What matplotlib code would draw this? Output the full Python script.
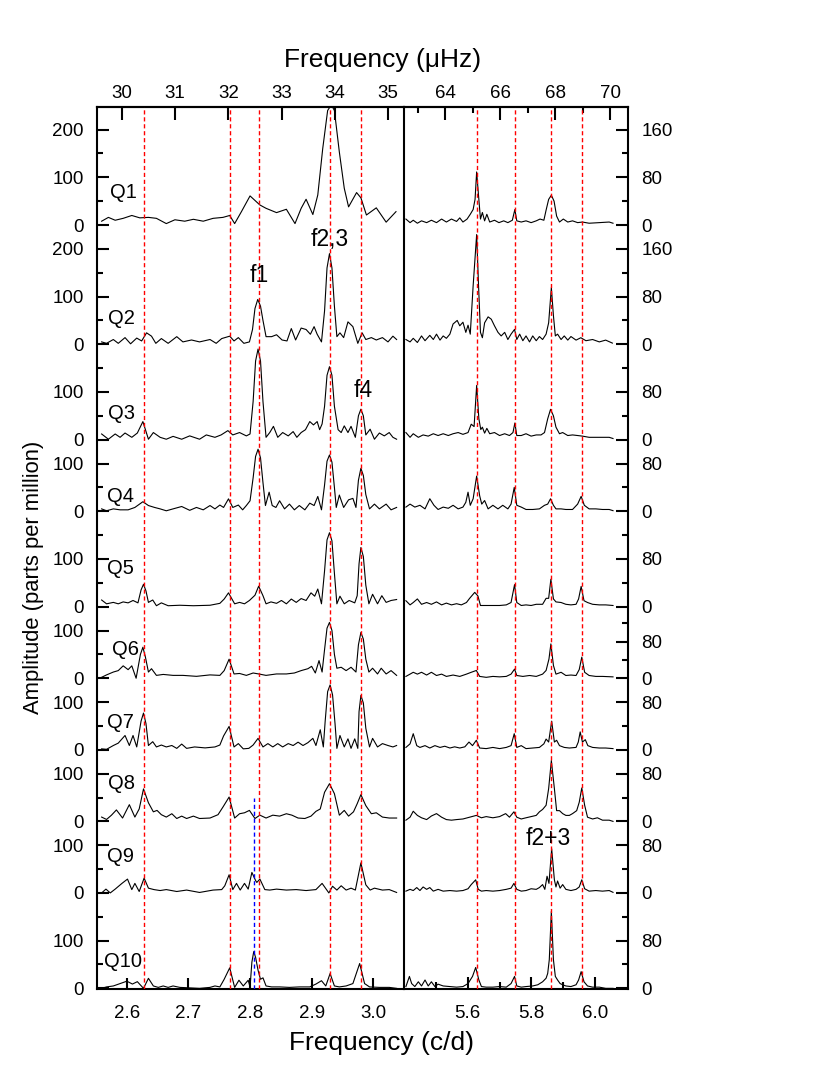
import numpy as np
import matplotlib
matplotlib.use("Agg")
import matplotlib.pyplot as plt

plt.rcParams["font.family"] = ["Liberation Sans", "DejaVu Sans"]

# ---------------- data ----------------
QUARTERS = ["Q1", "Q2", "Q3", "Q4", "Q5", "Q6", "Q7", "Q8", "Q9", "Q10"]
# stacking offset of each quarter's zero line (left ppm units)
OFFSETS = [1600, 1350, 1150, 1000, 800, 650, 500, 350, 200, 0]
# right column: left-units per labelled right-unit (Q6 drawn on another scale)
RIGHT_SCALE = [1.25, 1.25, 1.25, 1.25, 1.25, 0.96, 1.25, 1.25, 1.25, 1.25]

LEFT_LABELS = [[0, 100, 200], [0, 100, 200]] + [[0, 100]] * 8
LEFT_MINOR = [[50, 150], [50, 150], [50, 150], [50], [50, 150], [50], [50], [50], [50], [50, 150]]
RIGHT_LABELS = [[0, 80, 160], [0, 80, 160]] + [[0, 80]] * 8
RIGHT_MINOR = [[40, 120], [40, 120], [40, 120], [40], [40, 120], [40, 120], [40], [40], [40], [40, 120]]

# frequencies marked with dashed lines (c/d)
LEFT_LINES = [2.628, 2.767, 2.815, 2.930, 2.980]
RIGHT_LINES = [5.628, 5.748, 5.8625, 5.958]
BLUE_LINE = 2.806

# --- left column (2.55-3.05 c/d), amplitude in ppm ---
q1_lf = [2.559, 2.570, 2.581, 2.594, 2.608, 2.621, 2.635, 2.648, 2.664, 2.678, 2.694, 2.708, 2.724, 2.740,
         2.756, 2.767, 2.775, 2.786, 2.800, 2.816, 2.826, 2.843, 2.859, 2.873, 2.883, 2.891, 2.902, 2.910,
         2.918, 2.926, 2.932, 2.937, 2.945, 2.953, 2.960, 2.973, 2.980, 2.989, 3.005, 3.021, 3.037]
q1_la = [8, 16, 10, 14, 20, 15, 16, 14, 3, 11, 8, 12, 8, 14, 16, 20, 3, 28, 61, 42, 35, 26, 33, 3, 35, 54,
         22, 63, 160, 240, 252, 240, 153, 77, 38, 68, 57, 21, 36, 6, 28]

q2_lf = [2.559, 2.567, 2.578, 2.586, 2.597, 2.606, 2.616, 2.624, 2.632, 2.640, 2.647, 2.656, 2.667, 2.681,
         2.691, 2.705, 2.718, 2.735, 2.745, 2.754, 2.767, 2.774, 2.781, 2.790, 2.799, 2.804, 2.808, 2.8125,
         2.817, 2.821, 2.826, 2.835, 2.843, 2.852, 2.860, 2.867, 2.874, 2.883, 2.891, 2.898, 2.904, 2.909,
         2.916, 2.921, 2.925, 2.929, 2.933, 2.937, 2.941, 2.946, 2.952, 2.959, 2.967, 2.975, 2.982, 2.988,
         2.997, 3.005, 3.015, 3.024, 3.032, 3.038]
q2_la = [5, 2, 10, 2, 14, 1, 13, 7, 24, 17, 2, 12, 2, 16, 5, 9, 5, 10, 2, 12, 17, 7, 14, 2, 5, 31, 75, 94,
         80, 50, 16, 16, 20, 9, 7, 33, 9, 34, 31, 21, 37, 21, 5, 70, 160, 190, 160, 80, 16, 24, 14, 47, 37,
         2, 24, 10, 14, 9, 14, 5, 17, 10]

q3_lf = [2.559, 2.570, 2.581, 2.589, 2.597, 2.608, 2.617, 2.626, 2.635, 2.643, 2.654, 2.664, 2.675, 2.689,
         2.702, 2.718, 2.729, 2.743, 2.753, 2.764, 2.772, 2.783, 2.794, 2.800, 2.805, 2.809, 2.813, 2.817,
         2.821, 2.826, 2.832, 2.838, 2.845, 2.853, 2.862, 2.870, 2.876, 2.883, 2.890, 2.897, 2.903, 2.909,
         2.913, 2.917, 2.921, 2.925, 2.929, 2.933, 2.937, 2.943, 2.948, 2.953, 2.959, 2.964, 2.971, 2.976,
         2.980, 2.984, 2.988, 2.995, 3.002, 3.010, 3.018, 3.026, 3.032, 3.038]
q3_la = [12, 1, 12, 5, 14, 5, 14, 38, 1, 15, 5, 1, 7, 1, 8, 1, 10, 5, 10, 19, 10, 15, 8, 12, 80, 165, 190,
         165, 80, 5, 15, 28, 5, 15, 8, 17, 5, 15, 21, 38, 31, 38, 21, 33, 70, 135, 153, 135, 70, 21, 15, 29,
         15, 28, 5, 50, 64, 50, 10, 22, 1, 14, 8, 15, 5, 1]

q4_lf = [2.559, 2.567, 2.578, 2.589, 2.602, 2.613, 2.626, 2.635, 2.645, 2.654, 2.664, 2.675, 2.689, 2.702,
         2.713, 2.724, 2.735, 2.743, 2.751, 2.757, 2.765, 2.772, 2.781, 2.788, 2.794, 2.800, 2.805, 2.809,
         2.813, 2.817, 2.821, 2.825, 2.831, 2.836, 2.842, 2.848, 2.856, 2.864, 2.872, 2.880, 2.889, 2.897,
         2.904, 2.910, 2.916, 2.921, 2.925, 2.929, 2.933, 2.937, 2.940, 2.945, 2.952, 2.960, 2.967, 2.972,
         2.976, 2.980, 2.984, 2.988, 2.994, 3.002, 3.010, 3.021, 3.029, 3.038]
q4_la = [5, 1, 5, 3, 3, 8, 20, 12, 8, 5, 1, 5, 10, 2, 8, 3, 12, 5, 13, 8, 26, 8, 13, 3, 12, 22, 70, 115,
         130, 112, 60, 12, 40, 12, 8, 22, 5, 15, 3, 12, 3, 17, 12, 31, 3, 55, 105, 118, 103, 50, 8, 34, 8,
         24, 27, 8, 65, 90, 75, 35, 5, 15, 5, 15, 3, 8]

q5_lf = [2.559, 2.567, 2.578, 2.586, 2.594, 2.602, 2.610, 2.618, 2.623, 2.627, 2.631, 2.635, 2.642, 2.648,
         2.656, 2.667, 2.686, 2.708, 2.735, 2.751, 2.758, 2.765, 2.775, 2.783, 2.791, 2.799, 2.808, 2.814,
         2.821, 2.826, 2.834, 2.843, 2.851, 2.859, 2.867, 2.875, 2.883, 2.891, 2.899, 2.905, 2.910, 2.916,
         2.921, 2.925, 2.929, 2.933, 2.937, 2.941, 2.946, 2.953, 2.961, 2.970, 2.974, 2.977, 2.980, 2.984,
         2.988, 2.993, 2.999, 3.007, 3.014, 3.021, 3.029, 3.038]
q5_la = [14, 6, 9, 6, 10, 8, 13, 8, 35, 47, 33, 9, 14, 2, 8, 2, 3, 2, 3, 7, 16, 29, 6, 9, 6, 13, 24, 43,
         23, 6, 10, 7, 13, 6, 16, 9, 17, 13, 29, 22, 37, 6, 75, 140, 155, 138, 70, 6, 22, 6, 13, 8, 23, 90,
         124, 105, 45, 6, 26, 6, 23, 9, 13, 15]

q6_lf = [2.559, 2.567, 2.578, 2.586, 2.594, 2.602, 2.608, 2.615, 2.622, 2.626, 2.630, 2.635, 2.640, 2.648,
         2.659, 2.675, 2.691, 2.713, 2.735, 2.751, 2.758, 2.766, 2.774, 2.783, 2.794, 2.805, 2.814, 2.826,
         2.843, 2.859, 2.872, 2.883, 2.894, 2.900, 2.906, 2.912, 2.917, 2.921, 2.925, 2.929, 2.933, 2.937,
         2.941, 2.948, 2.956, 2.964, 2.972, 2.976, 2.980, 2.984, 2.988, 2.993, 2.999, 3.007, 3.013, 3.021,
         3.029, 3.038]
q6_la = [2, 7, 13, 16, 26, 18, 26, 0, 50, 65, 45, 13, 20, 6, 8, 6, 6, 4, 7, 6, 16, 40, 9, 10, 6, 11, 9, 6,
         9, 9, 11, 16, 20, 25, 11, 37, 13, 60, 105, 117, 100, 50, 21, 23, 16, 23, 13, 70, 96, 82, 40, 13,
         21, 9, 21, 9, 16, 6]

q7_lf = [2.559, 2.567, 2.578, 2.586, 2.597, 2.604, 2.610, 2.616, 2.623, 2.627, 2.631, 2.635, 2.642, 2.648,
         2.656, 2.664, 2.673, 2.681, 2.689, 2.697, 2.710, 2.727, 2.743, 2.751, 2.757, 2.766, 2.774, 2.781,
         2.789, 2.798, 2.805, 2.813, 2.821, 2.829, 2.837, 2.845, 2.853, 2.862, 2.870, 2.878, 2.886, 2.894,
         2.902, 2.907, 2.914, 2.919, 2.922, 2.926, 2.930, 2.934, 2.938, 2.941, 2.946, 2.953, 2.959, 2.964,
         2.970, 2.975, 2.977, 2.980, 2.984, 2.988, 2.994, 2.999, 3.007, 3.015, 3.024, 3.032, 3.038]
q7_la = [2, 1, 9, 14, 30, 9, 30, 6, 60, 77, 55, 9, 17, 6, 10, 6, 9, 3, 12, 3, 6, 4, 6, 10, 29, 49, 6, 13,
         2, 3, 10, 24, 6, 13, 6, 13, 6, 13, 9, 16, 9, 15, 24, 9, 42, 6, 60, 122, 136, 115, 55, 3, 30, 6, 23,
         3, 23, 3, 80, 114, 98, 45, 6, 24, 6, 13, 9, 6, 9]

q8_lf = [2.559, 2.567, 2.575, 2.583, 2.593, 2.604, 2.613, 2.620, 2.627, 2.635, 2.643, 2.649, 2.656, 2.664,
         2.673, 2.681, 2.689, 2.697, 2.708, 2.718, 2.735, 2.748, 2.756, 2.766, 2.775, 2.783, 2.791, 2.799,
         2.808, 2.816, 2.826, 2.837, 2.848, 2.859, 2.868, 2.878, 2.889, 2.899, 2.907, 2.914, 2.921, 2.929,
         2.937, 2.945, 2.953, 2.960, 2.968, 2.974, 2.980, 2.988, 2.997, 3.005, 3.015, 3.026, 3.038]
q8_la = [9, 4, 13, 24, 7, 35, 9, 26, 68, 39, 20, 23, 14, 9, 16, 6, 11, 6, 11, 6, 7, 14, 30, 51, 7, 16, 18,
         23, 6, 13, 7, 13, 11, 16, 13, 7, 6, 11, 21, 26, 61, 79, 58, 13, 23, 11, 20, 37, 56, 33, 16, 18, 9,
         7, 7]

q9_lf = [2.559, 2.566, 2.573, 2.581, 2.592, 2.601, 2.608, 2.613, 2.620, 2.628, 2.635, 2.644, 2.654, 2.664,
         2.681, 2.697, 2.718, 2.740, 2.754, 2.759, 2.766, 2.772, 2.778, 2.784, 2.791, 2.797, 2.803, 2.809,
         2.811, 2.816, 2.824, 2.832, 2.843, 2.859, 2.875, 2.891, 2.907, 2.917, 2.928, 2.934, 2.941, 2.948,
         2.956, 2.964, 2.971, 2.980, 2.988, 2.995, 3.002, 3.015, 3.026, 3.038]
q9_la = [0, 8, 0, 8, 20, 29, 7, 20, 3, 31, 10, 7, 5, 7, 3, 6, 1, 6, 7, 15, 38, 7, 20, 6, 20, 8, 43, 26, 22,
         29, 7, 6, 8, 6, 7, 5, 7, 20, 0, 14, 6, 15, 6, 10, 6, 63, 17, 6, 10, 6, 7, 1]

q10_lf = [2.559, 2.567, 2.578, 2.589, 2.600, 2.609, 2.617, 2.627, 2.635, 2.643, 2.651, 2.659, 2.667, 2.675,
          2.686, 2.702, 2.718, 2.735, 2.743, 2.751, 2.758, 2.767, 2.775, 2.782, 2.789, 2.797, 2.800, 2.803,
          2.806, 2.809, 2.813, 2.817, 2.821, 2.826, 2.835, 2.848, 2.864, 2.880, 2.897, 2.907, 2.916, 2.923,
          2.930, 2.937, 2.945, 2.956, 2.967, 2.978, 2.986, 2.994, 3.010, 3.026, 3.038]
q10_la = [0, 3, 5, 10, 15, 9, 14, 0, 21, 5, 2, 5, 2, 5, 2, 1, 0, 2, 5, 3, 19, 43, 2, 17, 5, 17, 3, 55, 77,
          65, 38, 19, 22, 5, 3, 3, 2, 3, 3, 9, 16, 5, 31, 5, 3, 5, 10, 52, 10, 3, 2, 2, 0]

# --- right column (5.40-6.10 c/d), amplitude in right-axis units ---
q1_rf = [5.406, 5.419, 5.429, 5.442, 5.455, 5.471, 5.486, 5.502, 5.518, 5.533, 5.549, 5.565, 5.575, 5.585,
         5.598, 5.608, 5.617, 5.623, 5.628, 5.634, 5.640, 5.646, 5.653, 5.660, 5.669, 5.684, 5.698, 5.713,
         5.726, 5.740, 5.748, 5.754, 5.768, 5.783, 5.799, 5.815, 5.827, 5.839, 5.846, 5.854, 5.8625, 5.871,
         5.879, 5.888, 5.900, 5.914, 5.929, 5.945, 5.960, 5.981, 6.013, 6.044, 6.056]
q1_ra = [10, 4, 8, 3, 7, 4, 8, 4, 10, 5, 10, 6, 12, 5, 10, 18, 26, 43, 89, 49, 10, 21, 7, 18, 5, 8, 4, 7,
         4, 8, 26, 7, 5, 7, 4, 7, 10, 8, 25, 43, 50, 40, 15, 5, 10, 5, 7, 4, 5, 3, 4, 5, 3]

q2_rf = [5.406, 5.419, 5.429, 5.442, 5.455, 5.466, 5.481, 5.492, 5.502, 5.513, 5.523, 5.533, 5.544, 5.554,
         5.567, 5.575, 5.585, 5.594, 5.601, 5.608, 5.617, 5.628, 5.634, 5.640, 5.646, 5.653, 5.664, 5.674,
         5.684, 5.695, 5.705, 5.716, 5.726, 5.736, 5.747, 5.754, 5.763, 5.773, 5.783, 5.794, 5.804, 5.815,
         5.825, 5.835, 5.846, 5.854, 5.8625, 5.869, 5.875, 5.882, 5.893, 5.903, 5.914, 5.924, 5.940, 5.955,
         5.971, 5.992, 6.013, 6.033, 6.054]
q2_ra = [8, 4, 10, 3, 14, 6, 15, 8, 17, 7, 14, 10, 17, 34, 40, 31, 37, 20, 32, 17, 98, 184, 98, 20, 11, 36,
         46, 42, 31, 20, 14, 20, 8, 17, 25, 8, 17, 6, 14, 4, 14, 6, 13, 8, 17, 36, 95, 48, 14, 17, 8, 14, 7,
         13, 7, 11, 6, 8, 4, 7, 2]

q3_rf = [5.406, 5.419, 5.429, 5.445, 5.460, 5.476, 5.492, 5.507, 5.523, 5.539, 5.554, 5.570, 5.585, 5.601,
         5.611, 5.620, 5.628, 5.635, 5.641, 5.646, 5.653, 5.660, 5.669, 5.684, 5.700, 5.716, 5.731, 5.742,
         5.748, 5.754, 5.768, 5.783, 5.799, 5.815, 5.830, 5.841, 5.851, 5.860, 5.869, 5.877, 5.888, 5.898,
         5.914, 5.929, 5.945, 5.960, 5.981, 6.013, 6.044, 6.056]
q3_ra = [12, 4, 10, 4, 8, 6, 10, 7, 10, 7, 10, 12, 9, 12, 26, 22, 91, 35, 17, 21, 11, 19, 10, 12, 7, 10, 7,
         12, 28, 7, 7, 10, 6, 8, 8, 12, 35, 51, 40, 21, 10, 12, 7, 8, 7, 6, 4, 4, 4, 2]

q4_rf = [5.406, 5.419, 5.434, 5.450, 5.466, 5.481, 5.494, 5.507, 5.523, 5.539, 5.554, 5.570, 5.585, 5.594,
         5.601, 5.608, 5.617, 5.628, 5.6375, 5.644, 5.653, 5.664, 5.679, 5.695, 5.710, 5.726, 5.736, 5.746,
         5.754, 5.768, 5.783, 5.804, 5.825, 5.841, 5.851, 5.860, 5.869, 5.877, 5.893, 5.908, 5.929, 5.945,
         5.956, 5.966, 5.981, 6.002, 6.023, 6.044, 6.056]
q4_ra = [7, 12, 7, 10, 4, 21, 10, 3, 7, 5, 10, 4, 7, 15, 32, 10, 21, 59, 26, 12, 18, 4, 10, 4, 10, 4, 12,
         40, 10, 7, 3, 3, 4, 10, 12, 21, 10, 4, 4, 3, 3, 12, 25, 10, 4, 4, 3, 3, 1]

q5_rf = [5.406, 5.419, 5.429, 5.442, 5.455, 5.471, 5.486, 5.502, 5.518, 5.533, 5.549, 5.565, 5.580, 5.596,
         5.606, 5.622, 5.632, 5.640, 5.658, 5.679, 5.700, 5.721, 5.736, 5.747, 5.754, 5.768, 5.783, 5.799,
         5.815, 5.835, 5.846, 5.854, 5.861, 5.869, 5.877, 5.893, 5.908, 5.924, 5.940, 5.948, 5.956, 5.965,
         5.976, 5.992, 6.013, 6.033, 6.056]
q5_ra = [10, 3, 7, 13, 4, 7, 4, 8, 3, 6, 3, 5, 3, 7, 14, 24, 18, 2, 2, 2, 2, 3, 7, 37, 7, 2, 3, 2, 4, 4,
         14, 14, 46, 13, 8, 7, 4, 3, 4, 13, 34, 10, 7, 4, 3, 3, 2]

q6_rf = [5.406, 5.419, 5.429, 5.442, 5.455, 5.471, 5.486, 5.502, 5.518, 5.533, 5.554, 5.575, 5.596, 5.611,
         5.627, 5.6375, 5.658, 5.679, 5.700, 5.721, 5.736, 5.747, 5.754, 5.773, 5.794, 5.815, 5.835, 5.846,
         5.855, 5.861, 5.869, 5.877, 5.893, 5.908, 5.924, 5.940, 5.950, 5.958, 5.967, 5.981, 6.002, 6.023,
         6.056]
q6_ra = [4, 9, 13, 9, 13, 7, 13, 6, 9, 4, 7, 4, 9, 13, 17, 4, 2, 4, 3, 4, 9, 20, 6, 4, 6, 4, 9, 17, 42, 75,
         28, 9, 13, 6, 7, 6, 19, 46, 13, 6, 4, 4, 3]

q7_rf = [5.406, 5.419, 5.429, 5.440, 5.450, 5.466, 5.481, 5.497, 5.513, 5.528, 5.544, 5.559, 5.575, 5.591,
         5.604, 5.615, 5.627, 5.6375, 5.658, 5.679, 5.700, 5.721, 5.736, 5.746, 5.754, 5.768, 5.783, 5.804,
         5.825, 5.839, 5.846, 5.854, 5.8635, 5.872, 5.879, 5.888, 5.903, 5.919, 5.940, 5.947, 5.953, 5.960,
         5.969, 5.977, 5.992, 6.013, 6.033, 6.056]
q7_ra = [4, 10, 27, 7, 4, 7, 3, 7, 4, 6, 3, 5, 3, 5, 13, 7, 16, 3, 2, 4, 2, 4, 7, 27, 4, 7, 2, 3, 4, 10,
         18, 13, 48, 13, 16, 7, 4, 3, 4, 13, 30, 13, 17, 7, 4, 3, 3, 2]

q8_rf = [5.406, 5.419, 5.429, 5.442, 5.455, 5.471, 5.486, 5.502, 5.518, 5.533, 5.549, 5.565, 5.585, 5.606,
         5.627, 5.643, 5.658, 5.679, 5.700, 5.719, 5.731, 5.745, 5.754, 5.768, 5.783, 5.799, 5.815, 5.825,
         5.835, 5.846, 5.854, 5.8625, 5.872, 5.879, 5.888, 5.898, 5.908, 5.919, 5.929, 5.942, 5.950, 5.958,
         5.967, 5.976, 5.992, 6.007, 6.023, 6.044, 6.056]
q8_ra = [2, 7, 17, 10, 6, 3, 9, 13, 7, 3, 2, 3, 4, 7, 10, 6, 8, 6, 8, 13, 7, 16, 7, 4, 6, 8, 10, 16, 20,
         27, 55, 102, 55, 18, 18, 13, 10, 10, 13, 18, 32, 56, 27, 7, 4, 6, 2, 2, 0]

q9_rf = [5.406, 5.419, 5.429, 5.440, 5.450, 5.460, 5.471, 5.481, 5.492, 5.507, 5.523, 5.544, 5.565, 5.585,
         5.601, 5.611, 5.625, 5.633, 5.643, 5.658, 5.679, 5.700, 5.721, 5.736, 5.745, 5.754, 5.768, 5.783,
         5.799, 5.815, 5.825, 5.835, 5.842, 5.849, 5.855, 5.8635, 5.872, 5.877, 5.882, 5.890, 5.898, 5.908,
         5.924, 5.940, 5.950, 5.958, 5.967, 5.981, 6.002, 6.023, 6.044, 6.056]
q9_ra = [3, 6, 4, 9, 4, 10, 6, 9, 3, 6, 3, 4, 3, 4, 7, 14, 22, 6, 3, 4, 3, 4, 6, 8, 16, 6, 3, 4, 7, 6, 9,
         14, 6, 28, 16, 74, 22, 10, 20, 8, 14, 6, 4, 6, 10, 22, 7, 3, 4, 3, 4, 1]

q10_rf = [5.406, 5.417, 5.424, 5.434, 5.445, 5.455, 5.466, 5.476, 5.486, 5.497, 5.507, 5.523, 5.544, 5.565,
          5.585, 5.601, 5.615, 5.625, 5.635, 5.643, 5.658, 5.679, 5.700, 5.721, 5.736, 5.747, 5.754, 5.768,
          5.783, 5.804, 5.820, 5.835, 5.846, 5.851, 5.856, 5.8625, 5.869, 5.875, 5.882, 5.890, 5.898, 5.908,
          5.924, 5.940, 5.948, 5.956, 5.965, 5.976, 5.992, 6.013, 6.033, 6.056]
q10_ra = [3, 20, 8, 3, 11, 4, 14, 4, 11, 3, 7, 4, 3, 2, 3, 8, 20, 35, 14, 3, 2, 2, 3, 2, 8, 20, 4, 2, 3, 4,
          6, 11, 17, 25, 48, 129, 48, 20, 14, 8, 6, 4, 3, 6, 14, 28, 11, 4, 2, 2, 0, 0]

LEFT_F = [q1_lf, q2_lf, q3_lf, q4_lf, q5_lf, q6_lf, q7_lf, q8_lf, q9_lf, q10_lf]
LEFT_A = [q1_la, q2_la, q3_la, q4_la, q5_la, q6_la, q7_la, q8_la, q9_la, q10_la]
RIGHT_F = [q1_rf, q2_rf, q3_rf, q4_rf, q5_rf, q6_rf, q7_rf, q8_rf, q9_rf, q10_rf]
RIGHT_A = [q1_ra, q2_ra, q3_ra, q4_ra, q5_ra, q6_ra, q7_ra, q8_ra, q9_ra, q10_ra]

# quarter label positions: (c/d, height above own zero line)
Q_LABEL_X = [2.5726, 2.5693, 2.5693, 2.5677, 2.5677, 2.5758, 2.5677, 2.5693, 2.5677, 2.5628]
Q_LABEL_DY = [56, 42, 43, 19, 68, 48, 45, 67, 64, 44]

# ---------------- helpers ----------------
def cd_to_uhz(x):
    return np.asarray(x) * 1e6 / 86400.0


def uhz_to_cd(x):
    return np.asarray(x) * 86400.0 / 1e6


YLIM = (-2, 1848)
TICK_FS = 13.5
SPINE_W = 1.5

fig = plt.figure(figsize=(8.3, 10.75), dpi=100)
W, H = 830.0, 1075.0
x0, x1, x2 = 96.7, 404.0, 628.3
ytop, ybot = 106.7, 989.3
axL = fig.add_axes([x0 / W, 1 - ybot / H, (x1 - x0) / W, (ybot - ytop) / H])
axR = fig.add_axes([x1 / W, 1 - ybot / H, (x2 - x1) / W, (ybot - ytop) / H])

# ---------------- left column ----------------
for i, q in enumerate(QUARTERS):
    off = OFFSETS[i]
    axL.plot(LEFT_F[i], np.array(LEFT_A[i]) + off, color="black", lw=0.8, zorder=2)
    axL.text(Q_LABEL_X[i], off + Q_LABEL_DY[i], q, fontsize=14.5, ha="left", va="baseline")

for f in LEFT_LINES:
    axL.axvline(f, color="red", lw=1.0, ls=(0, (3, 2)), zorder=3)
axL.vlines(BLUE_LINE, YLIM[0], 400, color="blue", lw=1.0, ls=(0, (3, 2)), zorder=3)

axL.set_xlim(2.551, 3.050)
axL.set_ylim(*YLIM)

ymaj, ylab, ymin = [], [], []
for i in range(len(QUARTERS)):
    for v in LEFT_LABELS[i]:
        ymaj.append(OFFSETS[i] + v)
        ylab.append(str(v))
    for v in LEFT_MINOR[i]:
        ymin.append(OFFSETS[i] + v)
axL.set_yticks(ymaj, ylab)
axL.set_yticks(ymin, minor=True)
axL.set_xticks([2.6, 2.7, 2.8, 2.9, 3.0], ["2.6", "2.7", "2.8", "2.9", "3.0"])

axL.tick_params(axis="y", which="major", direction="in", length=8.5, width=SPINE_W,
                labelsize=TICK_FS, pad=9.5, right=False)
axL.tick_params(axis="y", which="minor", direction="in", length=4, width=SPINE_W, right=False)
axL.tick_params(axis="x", which="major", direction="in", length=8, width=SPINE_W,
                labelsize=TICK_FS, pad=11, top=False)
axL.spines["right"].set_visible(False)

secL = axL.secondary_xaxis("top", functions=(cd_to_uhz, uhz_to_cd))
secL.set_xticks([30, 31, 32, 33, 34, 35], ["30", "31", "32", "33", "34", "35"])
secL.tick_params(direction="in", length=9, width=SPINE_W, labelsize=TICK_FS, pad=3.2)

# ---------------- right column ----------------
for i in range(len(QUARTERS)):
    off = OFFSETS[i]
    s = RIGHT_SCALE[i]
    axR.plot(RIGHT_F[i], np.array(RIGHT_A[i]) * s + off, color="black", lw=0.8, zorder=2)

for f in RIGHT_LINES:
    axR.axvline(f, color="red", lw=1.0, ls=(0, (3, 2)), zorder=3)

axR.set_xlim(5.40, 6.104)
axR.set_ylim(*YLIM)

rmaj, rlab, rmin = [], [], []
for i in range(len(QUARTERS)):
    for v in RIGHT_LABELS[i]:
        rmaj.append(OFFSETS[i] + v * RIGHT_SCALE[i])
        rlab.append(str(v))
    for v in RIGHT_MINOR[i]:
        rmin.append(OFFSETS[i] + v * RIGHT_SCALE[i])
axR.yaxis.tick_right()
axR.set_yticks(rmaj, rlab)
axR.set_yticks(rmin, minor=True)
axR.set_xticks([5.6, 5.8, 6.0], ["5.6", "5.8", "6.0"])
axR.set_xticks([5.5, 5.7, 5.9], minor=True)

axR.tick_params(axis="y", which="major", direction="in", length=9, width=SPINE_W,
                labelsize=TICK_FS, pad=9.5, left=False, right=True, labelleft=False, labelright=True)
axR.tick_params(axis="y", which="minor", direction="in", length=4.5, width=SPINE_W, left=False, right=True)
axR.tick_params(axis="x", which="major", direction="in", length=9, width=SPINE_W,
                labelsize=TICK_FS, pad=11, top=False)
axR.tick_params(axis="x", which="minor", direction="in", length=5, width=SPINE_W, top=False)

secR = axR.secondary_xaxis("top", functions=(cd_to_uhz, uhz_to_cd))
secR.set_xticks([64, 66, 68, 70], ["64", "66", "68", "70"])
secR.set_xticks([63, 65, 67, 69], minor=True)
secR.tick_params(which="major", direction="in", length=9, width=SPINE_W, labelsize=TICK_FS, pad=3.2)
secR.tick_params(which="minor", direction="in", length=4.5, width=SPINE_W)

for ax in (axL, axR, secL, secR):
    for sp in ax.spines.values():
        sp.set_linewidth(SPINE_W)

# ---------------- annotations ----------------
axL.text(2.815, 1480, "f1", fontsize=16.5, ha="center", va="baseline")
axL.text(2.929, 1557, "f2,3", fontsize=16.5, ha="center", va="baseline")
axL.text(2.984, 1240, "f4", fontsize=16.5, ha="center", va="baseline")
axR.text(5.853, 300, "f2+3", fontsize=16.5, ha="center", va="baseline")

fig.text(383 / W, 1 - 67.3 / H, "Frequency (\u03bcHz)", fontsize=19, ha="center", va="baseline")
fig.text(381.5 / W, 1 - 1050 / H, "Frequency (c/d)", fontsize=19, ha="center", va="baseline")
fig.text(33 / W, 1 - 577 / H, "Amplitude (parts per million)", fontsize=15.8,
         rotation=90, ha="center", va="center")

fig.savefig("out.png", dpi=100)
